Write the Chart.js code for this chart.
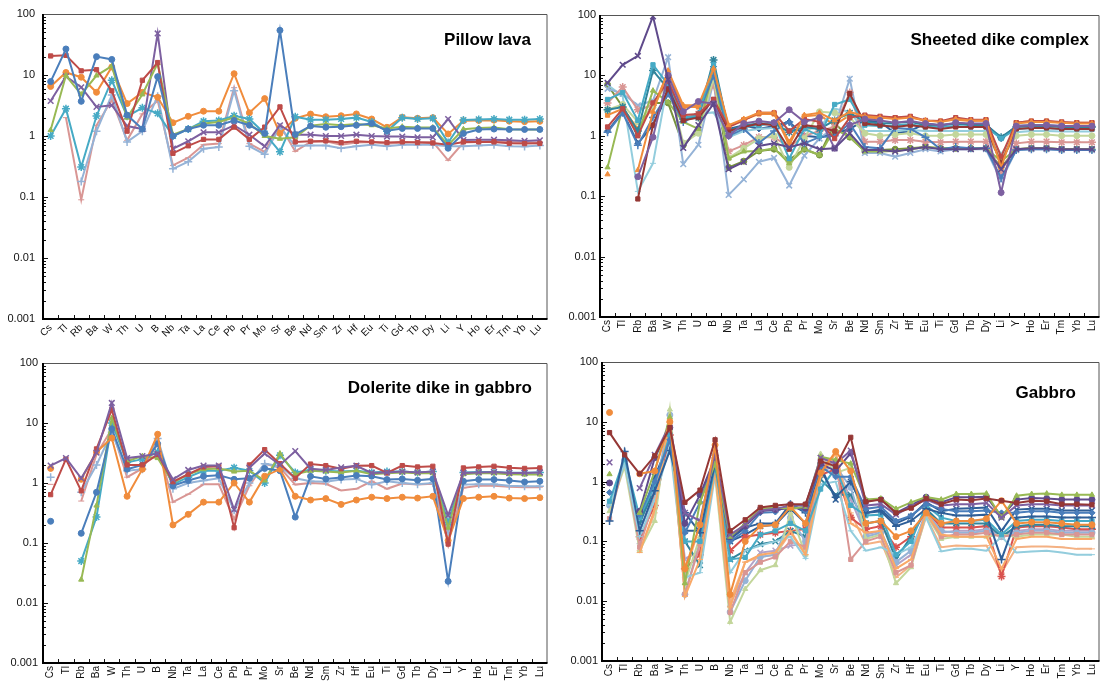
<!DOCTYPE html>
<html><head><meta charset="utf-8">
<script src="https://cdn.jsdelivr.net/npm/chart.js@4.4.1/dist/chart.umd.min.js"></script>
<style>
html,body{margin:0;padding:0;background:#fff;}
#wrap{position:relative;width:1105px;height:684px;overflow:hidden;font-family:"Liberation Sans",Arial,sans-serif;}
.panel{position:absolute;}
.title{position:absolute;font-weight:bold;font-size:17px;color:#000;white-space:nowrap;font-family:"Liberation Sans",Arial,sans-serif;}
</style></head>
<body><div id="wrap">
<div class="panel" style="left:0;top:0;"><canvas id="c1" width="553" height="345"></canvas><div class="title" style="right:22px;top:30px;">Pillow lava</div></div>
<div class="panel" style="left:553px;top:0;"><canvas id="c2" width="552" height="345"></canvas><div class="title" style="right:16px;top:30px;">Sheeted dike complex</div></div>
<div class="panel" style="left:0;top:345px;"><canvas id="c3" width="553" height="339"></canvas><div class="title" style="right:21px;top:33px;">Dolerite dike in gabbro</div></div>
<div class="panel" style="left:553px;top:345px;"><canvas id="c4" width="552" height="339"></canvas><div class="title" style="right:29px;top:38px;">Gabbro</div></div>
</div>
<script>
const categories = ['Cs','Tl','Rb','Ba','W','Th','U','B','Nb','Ta','La','Ce','Pb','Pr','Mo','Sr','Be','Nd','Sm','Zr','Hf','Eu','Ti','Gd','Tb','Dy','Li','Y','Ho','Er','Tm','Yb','Lu'];
const yTickValues = [0.001, 0.01, 0.1, 1, 10, 100];
const yTickLabels = ['0.001', '0.01', '0.1', '1', '10', '100'];
const panelTitles = ['Pillow lava', 'Sheeted dike complex', 'Dolerite dike in gabbro', 'Gabbro'];

// ---- Pillow lava ----
const pillowBlue   = [7.8, 26.7, 3.7, 20, 18, 2.2, 1.3, 9.4, 1.0, 1.3, 1.5, 1.5, 1.8, 1.5, 1.1, 54, 1.06, 1.46, 1.39, 1.42, 1.5, 1.6, 1.22, 1.33, 1.33, 1.33, 0.63, 1.1, 1.28, 1.3, 1.28, 1.28, 1.28];
const pillowRed    = [20.5, 21, 11.7, 12.2, 5.5, 1.2, 8.2, 16, 0.52, 0.69, 0.88, 0.88, 1.4, 0.88, 1.4, 3.0, 0.8, 0.82, 0.83, 0.78, 0.82, 0.8, 0.78, 0.8, 0.78, 0.77, 0.72, 0.8, 0.8, 0.8, 0.76, 0.75, 0.76];
const pillowGreen  = [1.25, 9.8, 4.8, 9.8, 14, 2.0, 4.8, 15.5, 1.05, 1.3, 1.6, 1.7, 2.0, 1.6, 1.0, 0.9, 0.95, 1.48, 1.57, 1.5, 1.57, 1.5, 1.33, 1.42, 1.38, 1.38, 0.71, 1.29, 1.35, 1.38, 1.29, 1.28, 1.28];
const pillowPurple = [3.75, 9.5, 6.3, 3.0, 3.2, 1.46, 1.3, 48, 0.62, 0.82, 1.15, 1.15, 1.5, 1.05, 0.68, 1.5, 1.05, 1.05, 1.0, 1.0, 1.05, 1.0, 0.98, 0.98, 0.95, 0.95, 1.9, 0.86, 0.87, 0.87, 0.85, 0.83, 0.85];
const pillowCyan   = [1.0, 2.8, 0.31, 2.13, 8.2, 2.1, 2.9, 2.35, 1.0, 1.3, 1.75, 1.8, 2.15, 1.9, 1.1, 0.55, 2.07, 1.85, 1.85, 1.9, 2.0, 1.7, 1.2, 2.0, 1.9, 1.95, 0.78, 1.83, 1.87, 1.9, 1.85, 1.85, 1.9];
const pillowOrange = [6.5, 11, 9.2, 5.2, 13.5, 3.4, 5.2, 4.3, 1.65, 2.1, 2.55, 2.55, 10.5, 2.4, 4.1, 1.1, 1.95, 2.29, 2.07, 2.15, 2.3, 1.9, 1.39, 2.02, 1.95, 2.0, 1.08, 1.78, 1.8, 1.82, 1.75, 1.72, 1.74];
const pillowLtBlue = [null, null, 0.18, 1.2, 4.7, 0.8, 1.2, 4.5, 0.29, 0.38, 0.62, 0.66, 5.5, 0.68, 0.5, 1.4, 0.69, 0.7, 0.7, 0.63, 0.68, 0.72, 0.68, 0.72, 0.72, 0.72, 0.68, 0.68, 0.7, 0.72, 0.68, 0.67, 0.7];
const pillowPink   = [null, 2.0, 0.09, 1.5, 3.9, 0.85, 2.3, 3.8, 0.33, 0.44, 0.72, 0.75, 6.2, 0.75, 0.55, 1.5, 0.56, 0.8, 0.82, 0.72, 0.78, 0.8, 0.75, 0.78, 0.8, 0.8, 0.4, 0.78, 0.8, 0.82, 0.8, 0.78, 0.78];

// ---- Sheeted dike complex ----
const dikeDkPurple = [7.5, 15, 21, 95, 8.5, 0.63, 1.5, 3.4, 0.28, 0.37, 0.68, 0.75, 0.65, 0.75, 0.6, 0.62, 1.1, 0.58, 0.58, 0.55, 0.6, 0.65, 0.6, 0.6, 0.6, 0.62, 0.28, 0.6, 0.62, 0.62, 0.6, 0.6, 0.6];
const dikePurple   = [null, null, 0.21, 0.95, 10, 2.5, 3.7, 3.4, 1.0, 1.6, 1.75, 1.65, 2.7, 1.7, 2.0, 0.62, 1.5, 1.9, 1.8, 1.65, 1.75, 1.6, 1.5, 1.65, 1.6, 1.6, 0.115, 1.45, 1.5, 1.5, 1.45, 1.45, 1.45];
const dikeOrangeT  = [0.23, null, 0.27, 2.5, 12, 3.2, 3.2, 13, 1.5, 1.9, 2.4, 2.4, 0.7, 2.2, 2.4, 1.8, 2.5, 2.1, 2.0, 1.9, 2.0, 1.8, 1.7, 1.9, 1.8, 1.8, 0.3, 1.6, 1.7, 1.7, 1.65, 1.6, 1.6];
const dikeRed      = [1.4, 2.8, 1.0, 3.5, 8, 2.2, 2.3, 4.0, 1.4, 1.8, 2.4, 2.4, 1.2, 1.9, 1.7, 0.9, 2.0, 2.2, 2.1, 2.0, 2.1, 1.8, 1.75, 2.0, 1.85, 1.85, 0.45, 1.65, 1.75, 1.75, 1.7, 1.65, 1.65];
const dikeDkRed    = [null, null, 0.09, 1.5, 6, 1.8, 2.0, 4.0, 1.2, 1.4, 1.6, 1.5, 0.6, 1.5, 1.4, 1.2, 5.0, 1.6, 1.5, 1.4, 1.5, 1.4, 1.3, 1.4, 1.4, 1.4, 0.35, 1.3, 1.35, 1.35, 1.3, 1.3, 1.3];
const dikeCyan     = [4.0, 5.2, 1.8, 15, 7, 2.0, 2.2, 15, 1.1, 1.4, 1.5, 1.6, 0.42, 1.3, 1.0, 3.3, 4.0, 1.5, 1.45, 1.5, 1.55, 1.4, 1.4, 1.45, 1.4, 1.4, 0.9, 1.3, 1.35, 1.35, 1.3, 1.3, 1.3];
const dikeTeal     = [2.7, 3.0, 1.2, 12, 6, 1.9, 2.0, 18, 1.2, 1.5, 1.6, 1.6, 1.15, 1.4, 1.3, 1.8, 2.4, 1.7, 1.6, 1.65, 1.7, 1.5, 1.5, 1.6, 1.5, 1.5, 0.95, 1.4, 1.45, 1.45, 1.4, 1.4, 1.4];
const dikeBlue     = [1.15, 2.4, 0.7, 2.0, 5, 1.7, 2.3, 10, 1.0, 1.3, 0.76, 1.2, 1.7, 0.75, 0.95, 1.0, 1.6, 0.65, 0.62, 1.35, 1.3, 0.95, 0.6, 0.65, 0.62, 0.62, 0.2, 0.58, 0.6, 0.6, 0.58, 0.58, 0.58];
const dikeGreen    = [0.3, 3.0, 1.05, 5.6, 3.6, 1.7, 1.3, 12, 0.42, 0.55, 0.56, 0.62, 0.35, 0.6, 0.48, 1.3, 0.95, 0.55, 0.55, 0.56, 0.6, 0.65, 0.62, 0.62, 0.62, 0.62, 0.38, 0.6, 0.62, 0.62, 0.6, 0.6, 0.6];
const dikeLtGreen  = [2.7, 3.3, 1.7, 3.0, 8, 0.76, 1.1, 9, 0.43, 0.62, 0.9, 1.0, 0.3, 0.9, 2.5, 2.4, 2.0, 1.1, 1.0, 1.05, 1.1, 1.0, 1.0, 1.05, 1.05, 1.05, 0.4, 1.0, 1.05, 1.05, 1.0, 1.0, 1.0];
const dikePink     = [3.5, 6.4, 2.7, 3.2, 9, 1.9, 2.3, 7, 0.55, 0.7, 0.95, 0.95, 0.65, 1.0, 1.2, 1.4, 5.2, 0.8, 0.8, 0.85, 0.85, 0.8, 0.78, 0.8, 0.8, 0.8, 0.25, 0.75, 0.8, 0.8, 0.78, 0.78, 0.78];
const dikeLtBlue   = [6.0, 5.0, 3.2, 3.8, 20, 0.34, 0.71, 8, 0.105, 0.19, 0.37, 0.43, 0.15, 0.47, 0.9, 1.4, 8.8, 0.52, 0.52, 0.45, 0.52, 0.6, 0.55, 0.6, 0.6, 0.6, 0.18, 0.58, 0.6, 0.6, 0.58, 0.58, 0.58];
const dikeLtCyan   = [7.0, 4.5, 0.12, 0.35, 8, 1.8, 2.3, 2.44, 0.95, 1.2, 1.3, 1.35, 1.3, 1.3, 1.35, 2.8, 2.5, 1.2, 1.2, 1.2, 1.25, 1.2, 1.2, 1.2, 1.2, 1.2, 0.5, 1.15, 1.2, 1.2, 1.18, 1.18, 1.18];
const dikeOrange   = [2.2, 2.8, 1.3, 3.0, 11, 3.0, 3.0, 11, 1.45, 1.85, 2.3, 2.3, 0.8, 2.1, 2.2, 1.5, 2.2, 2.0, 1.95, 2.0, 2.05, 1.75, 1.75, 1.85, 1.75, 1.8, 0.35, 1.65, 1.75, 1.75, 1.65, 1.65, 1.65];
const dikeDkBlue   = [1.2, 2.5, 0.75, 1.5, 5, 2.0, 2.0, 14, 1.3, 1.5, 1.3, 1.45, 1.7, 1.0, 0.95, 1.1, 1.3, 1.8, 1.7, 1.1, 1.2, 1.6, 1.5, 1.6, 1.55, 1.55, 0.9, 1.45, 1.5, 1.5, 1.45, 1.45, 1.45];
const dikeOlive    = [7.0, 3.0, 1.2, 3.5, 3.5, 0.7, 1.2, 10, 0.3, 0.38, 0.56, 0.6, 0.4, 0.6, 0.48, 1.6, 0.95, 0.56, 0.58, 0.6, 0.62, 0.65, 0.62, 0.62, 0.62, 0.62, 0.3, 0.6, 0.62, 0.62, 0.6, 0.6, 0.6];

// ---- Dolerite dike in gabbro ----
const dolPurple = [1.95, 2.6, 1.2, 3.2, 21.6, 2.6, 2.8, 3.1, 1.15, 1.65, 1.95, 1.95, 0.36, 1.8, 3.1, 2.0, 3.4, 1.73, 1.65, 1.82, 1.94, 1.47, 1.5, 1.55, 1.5, 1.55, 0.29, 1.47, 1.5, 1.52, 1.47, 1.47, 1.5];
const dolRed    = [0.64, 2.5, 0.74, 3.7, 16.7, 2.0, 2.0, 3.0, 1.05, 1.4, 1.85, 1.9, 0.18, 2.0, 3.6, 2.1, 1.2, 2.07, 1.95, 1.73, 1.94, 1.95, 1.47, 1.95, 1.85, 1.9, 0.096, 1.78, 1.85, 1.9, 1.8, 1.75, 1.78];
const dolOrange = [1.75, null, 1.15, 3.3, 5.6, 0.6, 1.7, 6.5, 0.2, 0.3, 0.48, 0.48, 1.0, 0.48, 1.3, 1.7, 0.6, 0.52, 0.55, 0.44, 0.52, 0.58, 0.55, 0.58, 0.56, 0.6, 0.11, 0.55, 0.58, 0.6, 0.56, 0.55, 0.57];
const dolBlue   = [0.23, null, 0.145, 0.7, 8, 1.7, 2.0, 4.5, 0.9, 1.1, 1.3, 1.35, 1.15, 1.2, 1.75, 1.6, 0.27, 1.29, 1.17, 1.24, 1.33, 1.3, 1.14, 1.17, 1.11, 1.17, 0.023, 1.07, 1.14, 1.14, 1.1, 1.04, 1.07];
const dolGreen  = [null, null, 0.0245, 0.42, 12, 2.3, 2.8, 2.6, 1.0, 1.4, 1.7, 1.75, 1.55, 1.6, 1.1, 3.1, 1.4, 1.6, 1.55, 1.5, 1.6, 1.4, 1.45, 1.5, 1.45, 1.45, 0.18, 1.4, 1.45, 1.45, 1.4, 1.38, 1.38];
const dolCyan   = [null, null, 0.05, 0.27, 10, 2.2, 2.5, 3.3, 0.95, 1.25, 1.6, 1.6, 1.8, 1.6, 1.0, 2.9, 1.5, 1.65, 1.6, 1.55, 1.6, 1.5, 1.55, 1.55, 1.5, 1.55, 0.22, 1.5, 1.52, 1.52, 1.48, 1.48, 1.5];
const dolLtBlue = [1.25, null, 0.7, 2.0, 7, 1.6, 1.7, 5.5, 0.8, 1.0, 1.1, 1.2, 0.35, 1.0, 2.1, 1.9, 1.2, 1.07, 1.05, 1.14, 1.17, 0.94, 1.07, 1.0, 0.95, 1.0, 0.15, 0.94, 0.95, 0.95, 0.9, 0.88, 0.88];
const dolPink   = [0.95, null, 0.5, 3.0, 8, 1.25, 1.75, 4.5, 0.48, 0.65, 0.95, 0.95, 0.25, 0.9, 2.1, 1.8, 0.94, 1.0, 0.97, 0.75, 0.8, 1.07, 0.8, 0.98, 0.94, 0.97, 0.1, 0.83, 0.9, 0.9, 0.87, 0.85, 0.85];

// ---- Gabbro ----
const gabDkRed   = [6.6, 2.8, 1.35, 2.7, 8, 0.45, 0.72, 5.0, 0.15, 0.23, 0.37, 0.4, 0.42, 0.42, 2.2, 1.8, 5.5, 0.46, 0.5, 0.3, 0.36, 0.52, 0.42, 0.5, 0.49, 0.52, 0.48, 0.44, 0.48, 0.47, 0.42, 0.42, 0.41];
const gabOrange  = [14.3, null, 1.35, 1.5, 10, 0.035, 0.19, 4.1, 0.013, 0.1, 0.18, 0.19, 0.38, 0.2, 1.4, 3.2, 1.5, 0.2, 0.22, 0.12, 0.15, 0.3, 0.2, 0.22, 0.22, 0.24, 0.48, 0.2, 0.21, 0.21, 0.2, 0.19, 0.19];
const gabPurpleX = [2.1, null, 0.78, 2.8, 9, 0.3, 0.22, 3.0, 0.13, 0.19, 0.33, 0.35, 0.4, 0.4, 2.5, 2.0, 3.3, 0.4, 0.42, 0.28, 0.38, 0.5, 0.4, 0.42, 0.42, 0.44, 0.25, 0.4, 0.42, 0.42, 0.4, 0.4, 0.4];
const gabGreen   = [1.33, null, 0.3, 1.5, 12, 0.02, 0.45, 2.0, 0.12, 0.2, 0.35, 0.37, 0.35, 0.38, 2.6, 2.3, 2.0, 0.5, 0.52, 0.35, 0.45, 0.55, 0.5, 0.62, 0.62, 0.63, 0.25, 0.58, 0.62, 0.63, 0.6, 0.6, 0.6];
const gabPurple  = [0.95, null, 0.32, 2.5, 8, 0.2, 0.6, 2.5, 0.12, 0.18, 0.32, 0.34, 0.36, 0.36, 2.0, 1.5, 3.0, 0.48, 0.5, 0.3, 0.4, 0.55, 0.45, 0.55, 0.55, 0.56, 0.26, 0.5, 0.53, 0.52, 0.5, 0.5, 0.5];
const gabBlue    = [0.66, null, 0.28, 1.0, 5, 0.14, 0.45, 2.7, 0.1, 0.15, 0.3, 0.31, 0.42, 0.32, 1.8, 1.2, 1.2, 0.35, 0.38, 0.22, 0.27, 0.42, 0.35, 0.32, 0.32, 0.33, 0.3, 0.3, 0.32, 0.32, 0.3, 0.3, 0.3];
const gabBluePlus= [0.22, 3.2, 0.15, 0.7, 3.3, 0.3, 0.14, 2.0, 0.11, 0.17, 0.2, 0.2, 0.42, 0.3, 1.6, 0.55, 1.0, 0.3, 0.32, 0.18, 0.22, 0.35, 0.3, 0.27, 0.27, 0.28, 0.05, 0.25, 0.26, 0.26, 0.25, 0.25, 0.25];
const gabCyan    = [0.47, 2.5, 0.25, 0.9, 6, 0.1, 0.1, 1.8, 0.05, 0.054, 0.13, 0.15, 0.2, 0.15, 0.75, 1.7, 0.4, 0.27, 0.28, 0.06, 0.1, 0.4, 0.25, 0.22, 0.22, 0.23, 0.13, 0.22, 0.23, 0.23, 0.22, 0.22, 0.22];
const gabLtOrange= [null, null, 0.065, 0.35, 11, 0.012, 0.05, 1.5, 0.008, 0.045, 0.06, 0.065, 0.15, 0.06, 1.2, 3.0, 0.2, 0.14, 0.15, 0.035, 0.05, 0.3, 0.13, 0.12, 0.12, 0.12, 0.035, 0.11, 0.12, 0.12, 0.11, 0.11, 0.11];
const gabLtCyan  = [0.4, 2.0, 0.12, 0.5, 4, 0.025, 0.03, 1.3, 0.03, 0.07, 0.085, 0.1, 0.12, 0.052, 0.9, 1.0, 0.15, 0.07, 0.08, 0.06, 0.08, 0.25, 0.068, 0.075, 0.075, 0.07, 0.12, 0.065, 0.068, 0.07, 0.065, 0.06, 0.06];
const gabPink    = [0.24, 2.3, 0.08, 0.55, 9, 0.013, 0.09, 1.7, 0.0065, 0.03, 0.045, 0.055, 0.1, 0.08, 2.4, 2.2, 0.05, 0.1, 0.12, 0.03, 0.04, 0.3, 0.12, 0.13, 0.13, 0.14, 0.12, 0.13, 0.14, 0.14, 0.13, 0.13, 0.13];
const gabLtGreen = [0.32, 1.8, 0.07, 0.22, 16, 0.02, 0.12, 1.24, 0.0045, 0.016, 0.033, 0.04, 0.3, 0.06, 2.9, 1.4, 1.7, 0.11, 0.13, 0.02, 0.037, 0.28, 0.11, 0.12, 0.12, 0.12, 0.13, 0.12, 0.13, 0.13, 0.13, 0.12, 0.12];
const gabLtBlue  = [0.4, 2.3, 0.15, 0.6, 13, 0.013, 0.1, 2.8, 0.0066, 0.022, 0.055, 0.06, 0.25, 0.1, 1.5, 1.8, 0.8, 0.12, 0.14, 0.045, 0.07, 0.3, 0.15, 0.14, 0.14, 0.15, 0.12, 0.14, 0.15, 0.15, 0.14, 0.14, 0.14];
const gabCyanX   = [null, null, 0.2, 0.8, 7, 0.1, 0.04, 1.9, 0.05, 0.07, 0.09, 0.1, 0.15, 0.12, 1.1, 0.6, 0.6, 0.2, 0.22, 0.05, 0.12, 0.35, 0.2, 0.2, 0.2, 0.2, 0.12, 0.18, 0.19, 0.19, 0.18, 0.18, 0.18];
const gabRedStar = [null, null, 0.12, 0.4, 6, 0.035, 0.06, 2.2, 0.07, 0.12, 0.13, 0.14, 0.15, 0.16, 1.3, 1.6, 0.25, 0.16, 0.18, 0.08, 0.12, 0.33, 0.17, 0.17, 0.17, 0.18, 0.026, 0.17, 0.18, 0.18, 0.17, 0.16, 0.16];
const gabPeach   = [null, null, 0.07, 0.3, 10, 0.028, 0.19, 1.6, 0.01, 0.045, 0.055, 0.06, 0.14, 0.06, 1.3, 3.1, 0.3, 0.09, 0.1, 0.025, 0.04, 0.26, 0.08, 0.085, 0.083, 0.085, 0.03, 0.08, 0.082, 0.082, 0.08, 0.075, 0.075];
const gabDkBlue  = [null, null, 0.2, 1.2, 5, 0.15, 0.15, 2.5, 0.1, 0.13, 0.18, 0.19, 0.35, 0.2, 1.8, 0.5, 1.0, 0.3, 0.34, 0.2, 0.26, 0.45, 0.32, 0.35, 0.36, 0.37, 0.15, 0.34, 0.35, 0.35, 0.33, 0.33, 0.33];
const gabLtPurple= [null, null, 0.1, 0.45, 8, 0.05, 0.07, 1.5, 0.009, 0.03, 0.065, 0.07, 0.085, 0.09, 2.0, 2.0, 0.5, 0.13, 0.15, 0.04, 0.06, 0.32, 0.14, 0.15, 0.15, 0.16, 0.13, 0.15, 0.16, 0.16, 0.15, 0.15, 0.15];

const C = {
  blue:'#4a7ebb', red:'#be4b48', green:'#98b954', purple:'#7d60a0', cyan:'#46aac5', orange:'#f08c3c',
  ltBlue:'#95b3d7', pink:'#d99694', dkPurple:'#5f4a8b', dkRed:'#953735', teal:'#31859c', ltGreen:'#c3d69b',
  ltCyan:'#93cddd', dkBlue:'#2f5f98', olive:'#77933c', ltOrange:'#f9a968', peach:'#f4b183', ltPurple:'#b3a2c7', redStar:'#d9534f'
};

function ds(data, color, style) {
  const cross = (style === 'cross' || style === 'crossRot' || style === 'star');
  return {
    data: data, borderColor: color, backgroundColor: color,
    pointStyle: style, pointRadius: cross ? 4 : 3, pointBorderWidth: cross ? 1.5 : 1,
    pointBorderColor: color, pointBackgroundColor: color,
    borderWidth: 2, tension: 0, spanGaps: false, fill: false
  };
}

function decadeLabel(v) {
  for (let i = 0; i < yTickValues.length; i++) {
    if (Math.abs(Math.log10(v) - Math.log10(yTickValues[i])) < 1e-6) return yTickLabels[i];
  }
  return '';
}

const framePlugin = {
  id: 'frame',
  afterDraw(chart) {
    const ctx = chart.ctx, a = chart.chartArea;
    const ys = chart.scales.y, xs = chart.scales.x;
    ctx.save();
    ctx.strokeStyle = '#111';
    ctx.lineWidth = 1;
    for (let e = -3; e <= 2; e++) {
      for (let m = 1; m <= 9; m++) {
        const v = m * Math.pow(10, e);
        if (v > 100.0001) break;
        const y = Math.round(ys.getPixelForValue(v)) + 0.5;
        const len = (m === 1) ? 5 : 3;
        ctx.beginPath(); ctx.moveTo(a.left, y); ctx.lineTo(a.left + len, y); ctx.stroke();
      }
    }
    const n = categories.length;
    for (let i = 1; i < n; i++) {
      const x = Math.round((xs.getPixelForValue(i - 1) + xs.getPixelForValue(i)) / 2) + 0.5;
      ctx.beginPath(); ctx.moveTo(x, a.bottom); ctx.lineTo(x, a.bottom - 4); ctx.stroke();
    }
    ctx.strokeStyle = '#555';
    ctx.lineWidth = 1;
    ctx.beginPath();
    ctx.moveTo(a.left, a.top + 0.5); ctx.lineTo(a.right - 0.5, a.top + 0.5); ctx.lineTo(a.right - 0.5, a.bottom);
    ctx.stroke();
    ctx.strokeStyle = '#000';
    ctx.lineWidth = 2;
    ctx.beginPath();
    ctx.moveTo(a.left, a.top); ctx.lineTo(a.left, a.bottom); ctx.lineTo(a.right, a.bottom);
    ctx.stroke();
    ctx.restore();
  }
};

function makeChart(id, datasets, cfg) {
  return new Chart(document.getElementById(id), {
    type: 'line',
    data: { labels: categories, datasets: datasets },
    plugins: [framePlugin],
    options: {
      responsive: false, animation: false, devicePixelRatio: 1,
      layout: { padding: { top: cfg.top, right: cfg.right, left: 0, bottom: 0 } },
      plugins: { legend: { display: false }, tooltip: { enabled: false }, title: { display: false } },
      scales: {
        x: {
          type: 'category', offset: true,
          grid: { display: false, drawTicks: false }, border: { display: false },
          ticks: { autoSkip: false, minRotation: cfg.rot, maxRotation: cfg.rot, padding: cfg.xpad,
                   color: '#111', font: { family: '"Liberation Sans", Arial, sans-serif', size: cfg.xfont } },
          afterFit(s) { s.height = cfg.xh; s.paddingLeft = 0; s.paddingRight = 0; }
        },
        y: {
          type: 'logarithmic', min: 0.001, max: 100,
          grid: { display: false, drawTicks: false }, border: { display: false },
          ticks: { autoSkip: false, padding: cfg.ypad, color: '#111',
                   font: { family: '"Liberation Sans", Arial, sans-serif', size: 11 },
                   callback: (v) => decadeLabel(v) },
          afterFit(s) { s.width = cfg.yw; s.paddingTop = 0; s.paddingBottom = 0; }
        }
      }
    }
  });
}

makeChart('c1', [
  ds(pillowBlue, C.blue, 'circle'), ds(pillowRed, C.red, 'rect'), ds(pillowGreen, C.green, 'triangle'),
  ds(pillowPurple, C.purple, 'crossRot'), ds(pillowCyan, C.cyan, 'star'), ds(pillowOrange, C.orange, 'circle'),
  ds(pillowLtBlue, C.ltBlue, 'cross'), ds(pillowPink, C.pink, 'line')
], { top: 14, right: 3, xh: 26, yw: 43, rot: 45, xfont: 10, xpad: 3, ypad: 8 });

makeChart('c2', [
  ds(dikeDkPurple, C.dkPurple, 'crossRot'), ds(dikePurple, C.purple, 'circle'), ds(dikeOrangeT, C.orange, 'triangle'),
  ds(dikeRed, C.red, 'rect'), ds(dikeDkRed, C.dkRed, 'rect'), ds(dikeCyan, C.cyan, 'rect'),
  ds(dikeTeal, C.teal, 'star'), ds(dikeBlue, C.blue, 'cross'), ds(dikeGreen, C.green, 'triangle'),
  ds(dikeLtGreen, C.ltGreen, 'circle'), ds(dikePink, C.pink, 'star'), ds(dikeLtBlue, C.ltBlue, 'crossRot'),
  ds(dikeLtCyan, C.ltCyan, 'line'), ds(dikeOrange, C.orange, 'rect'), ds(dikeDkBlue, C.dkBlue, 'rectRot'),
  ds(dikeOlive, C.olive, 'circle')
], { top: 15, right: 1, xh: 28, yw: 47, rot: 90, xfont: 10, xpad: 3, ypad: 4 });

makeChart('c3', [
  ds(dolPurple, C.purple, 'crossRot'), ds(dolRed, C.red, 'rect'), ds(dolOrange, C.orange, 'circle'),
  ds(dolBlue, C.blue, 'circle'), ds(dolGreen, C.green, 'triangle'), ds(dolCyan, C.cyan, 'star'),
  ds(dolLtBlue, C.ltBlue, 'cross'), ds(dolPink, C.pink, 'line')
], { top: 18, right: 5, xh: 21, yw: 43, rot: 90, xfont: 10, xpad: 3, ypad: 5 });

makeChart('c4', [
  ds(gabDkRed, C.dkRed, 'rect'), ds(gabOrange, C.orange, 'circle'), ds(gabPurpleX, C.purple, 'crossRot'),
  ds(gabGreen, C.green, 'triangle'), ds(gabPurple, C.dkPurple, 'circle'), ds(gabBlue, C.blue, 'rectRot'),
  ds(gabBluePlus, C.dkBlue, 'cross'), ds(gabCyan, C.cyan, 'rect'), ds(gabLtOrange, C.ltOrange, 'line'),
  ds(gabLtCyan, C.ltCyan, 'line'), ds(gabPink, C.pink, 'rect'), ds(gabLtGreen, C.ltGreen, 'triangle'),
  ds(gabLtBlue, C.ltBlue, 'circle'), ds(gabCyanX, C.teal, 'crossRot'), ds(gabRedStar, C.redStar, 'star'),
  ds(gabPeach, C.peach, 'line'), ds(gabDkBlue, C.dkBlue, 'crossRot'), ds(gabLtPurple, C.ltPurple, 'crossRot')
], { top: 17, right: 2, xh: 23, yw: 49, rot: 90, xfont: 10, xpad: 3, ypad: 4 });
</script>
</body></html>
